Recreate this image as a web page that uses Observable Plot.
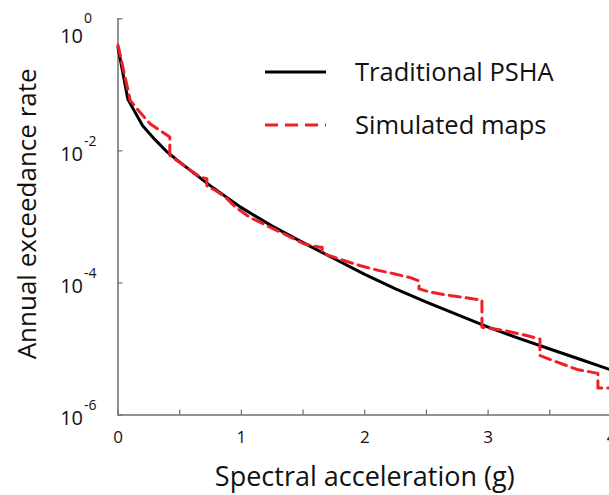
<!DOCTYPE html>
<html>
<head>
<meta charset="utf-8">
<script src="https://cdn.jsdelivr.net/npm/d3@7"></script>
<script src="https://cdn.jsdelivr.net/npm/@observablehq/plot@0.6"></script>
<style>
  html, body { margin: 0; padding: 0; background: #fff; }
  #wrap { position: relative; width: 609px; height: 495px; overflow: hidden; }
  #legend { position: absolute; left: 0; top: 0; }
  text { font-family: "Open Sans", sans-serif; }
</style>
</head>
<body>
<div id="wrap"><div id="chart"></div><svg id="legend" width="609" height="495"></svg></div>
<script>
// ---- data ----
const xTicks = [0, 0.5, 1, 1.5, 2, 2.5, 3, 3.5, 4];
const xTickLabels = [0, 1, 2, 3, 4];
const yTicks = [1, 1e-2, 1e-4, 1e-6];
const yExponents = ["0", "-2", "-4", "-6"];

const pshaX = [0, 0.08, 0.2, 0.3, 0.4, 0.5, 0.75, 1.0, 1.25, 1.5, 1.75, 2.0, 2.25, 2.5, 2.75, 3.0, 3.25, 3.5, 3.75, 4.0];
const pshaLog = [-0.43, -1.22, -1.62, -1.83, -2.02, -2.17, -2.53, -2.86, -3.14, -3.39, -3.63, -3.87, -4.09, -4.29, -4.48, -4.67, -4.84, -5.00, -5.16, -5.32];

const simX = [0, 0.10, 0.18, 0.26, 0.42, 0.42, 0.48, 0.57, 0.67, 0.72, 0.72, 0.79, 0.87, 0.95, 1.07, 1.15, 1.26, 1.37, 1.51, 1.64, 1.655, 1.655, 1.83, 1.965, 2.11, 2.235, 2.37, 2.44, 2.44, 2.53, 2.69, 2.95, 2.95, 3.13, 3.32, 3.42, 3.42, 3.56, 3.72, 3.89, 3.89, 4.0];
const simLog = [-0.40, -1.24, -1.42, -1.59, -1.79, -2.07, -2.15, -2.27, -2.40, -2.42, -2.53, -2.60, -2.70, -2.85, -3.01, -3.08, -3.18, -3.28, -3.41, -3.46, -3.46, -3.55, -3.66, -3.74, -3.81, -3.86, -3.92, -3.97, -4.09, -4.14, -4.19, -4.26, -4.67, -4.72, -4.80, -4.85, -5.10, -5.20, -5.31, -5.37, -5.59, -5.59];

const seriesNames = ["Traditional PSHA", "Simulated maps"];
const xLabel = "Spectral acceleration (g)";
const yLabel = "Annual exceedance rate";

// tables built from the arrays
const psha = pshaX.map((x, i) => ({x, y: Math.pow(10, pshaLog[i])}));
const sim = simX.map((x, i) => ({x, y: Math.pow(10, simLog[i])}));
const yTickRows = yTicks.map((v, i) => ({v, e: yExponents[i]}));

const FONT = '"Open Sans", sans-serif';
const AXIS = "#6e6e6e";
const RED = "#ee1f26";

const chart = Plot.plot({
  width: 609,
  height: 495,
  marginLeft: 117.5,
  marginRight: -2,
  marginTop: 18.3,
  marginBottom: 80.5,
  style: {fontFamily: FONT, background: "white", color: "#111"},
  x: {domain: [0, 4], label: null},
  y: {type: "log", domain: [1e-6, 1], label: null},
  marks: [
    Plot.ruleX([0], {stroke: AXIS, strokeWidth: 1.5}),
    Plot.ruleY([1e-6], {stroke: AXIS, strokeWidth: 1.5}),
    Plot.axisX({ticks: xTicks, tickSize: -5, stroke: AXIS, strokeWidth: 1.2, tickFormat: () => "", label: null}),
    Plot.axisY({ticks: yTicks, tickSize: -5, stroke: AXIS, strokeWidth: 1.2, tickFormat: () => "", label: null}),
    Plot.text(xTickLabels, {x: d => d, y: 1e-6, text: d => String(d), dy: 23, fontSize: 17, fill: "#111", clip: false}),
    Plot.text(yTickRows.filter(d => d.v !== 1), {x: 0, y: "v", text: () => "10", textAnchor: "end", dx: -35, dy: 4, fontSize: 20, fill: "#111"}),
    Plot.text(yTickRows.filter(d => d.v !== 1), {x: 0, y: "v", text: "e", textAnchor: "start", dx: -34, dy: -9, fontSize: 14, fill: "#111"}),
    Plot.text(yTickRows.filter(d => d.v === 1), {x: 0, y: "v", text: () => "10", textAnchor: "end", dx: -35, dy: 18, fontSize: 20, fill: "#111"}),
    Plot.text(yTickRows.filter(d => d.v === 1), {x: 0, y: "v", text: "e", textAnchor: "start", dx: -34, dy: 0, fontSize: 14, fill: "#111"}),
    Plot.text([xLabel], {frameAnchor: "bottom", textAnchor: "middle", text: d => d, dy: 71, fontSize: 27, fill: "#111"}),
    Plot.text([yLabel], {frameAnchor: "left", textAnchor: "middle", lineAnchor: "middle", text: d => d, rotate: -90, dx: -90, dy: -3, fontSize: 26, fill: "#111"}),
    Plot.line(psha, {x: "x", y: "y", stroke: "#000", strokeWidth: 3}),
    Plot.line(sim, {x: "x", y: "y", stroke: RED, strokeWidth: 3, strokeDasharray: "11,6"})
  ]
});
document.getElementById("chart").appendChild(chart);

// legend overlay
const lg = d3.select("#legend");
const items = [
  {name: seriesNames[0], stroke: "#000", dash: null, y: 72},
  {name: seriesNames[1], stroke: RED, dash: "13,7", y: 125}
];
items.forEach(it => {
  lg.append("line").attr("x1", 265).attr("x2", 326).attr("y1", it.y).attr("y2", it.y)
    .attr("stroke", it.stroke).attr("stroke-width", 3).attr("stroke-dasharray", it.dash);
  lg.append("text").attr("x", 355).attr("y", it.y).attr("dy", "0.35em")
    .attr("font-size", 25.5).attr("fill", "#111").style("font-family", FONT).text(it.name);
});
</script>
</body>
</html>
